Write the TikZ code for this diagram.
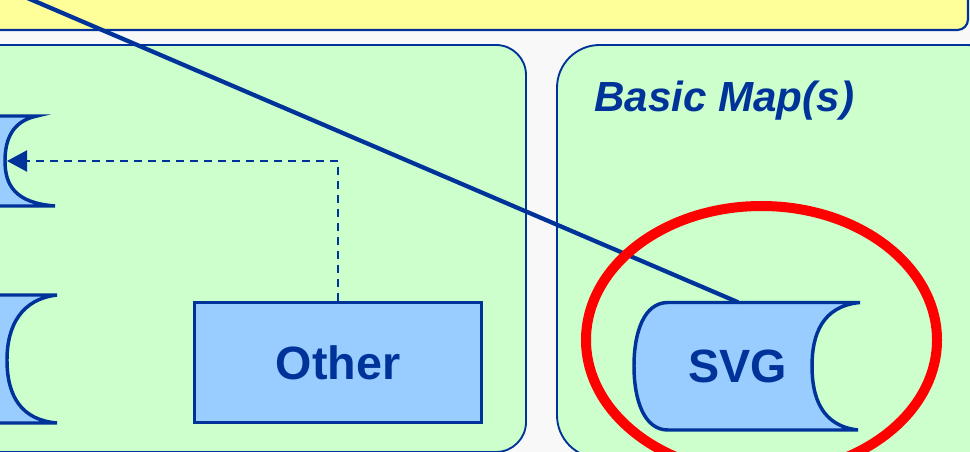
\documentclass[tikz,border=0pt]{standalone}
\usepackage{fontspec}
\setmainfont{Liberation Sans}
\usetikzlibrary{arrows.meta}

\definecolor{navy}{HTML}{003399}
\definecolor{mint}{HTML}{CCFFCC}
\definecolor{lemon}{HTML}{FFFF99}
\definecolor{sky}{HTML}{99CCFF}
\definecolor{paper}{HTML}{F8F8F8}

\begin{document}
\begin{tikzpicture}[
	x=0.75pt, y=-0.75pt,
	panel/.style={draw=navy, fill=mint, line width=1.4pt},
	store/.style={draw=navy, fill=sky, line width=2.6pt},
	boxtext/.style={text=navy, inner sep=0pt, font=\fontsize{35}{42}\selectfont\bfseries},
]
	\useasboundingbox (0,0) rectangle (970,452);
	\clip (0,0) rectangle (970,452);
	\fill [paper] (0,0) rectangle (970,452);

	\draw [draw=navy, fill=lemon, line width=1.6pt, rounded corners=8pt] (-40,-60) rectangle (968,30);
	\draw [panel, rounded corners=22.5pt] (-40,45) rectangle (526,452);
	\draw [panel, rounded corners=32pt] (557,45) rectangle (1010,458);

	\node [text=navy, inner sep=0pt, anchor=base west, font=\fontsize{31.6}{38}\selectfont\bfseries\itshape] (title) at (594,112) {Basic Map(s)};

	\draw [store] (-20,116) -- (37,116) .. controls (12,121) and (5,140) .. (5,161) .. controls (5,185) and (15,203) .. (55,206) -- (-20,206) -- cycle;
	\draw [store] (-20,295) -- (57,295) .. controls (22,299) and (7,325) .. (7,360) .. controls (7,397) and (22,420) .. (57,423) -- (-20,423) -- cycle;
	\draw [store] (668,302.5) -- (860,302.5) .. controls (822,306) and (812,335) .. (812,366) .. controls (812,398) and (822,426) .. (858,430) -- (668,430) .. controls (644,430) and (634,400) .. (634,366) .. controls (634,332) and (644,302.5) .. (668,302.5) -- cycle;

	\node [store, boxtext, minimum width=215pt, minimum height=90pt] (other) at (338,362.5) {Other};
	\node [boxtext, minimum height=95.25pt] (svg) at (738,366) {SVG};

	\coordinate (dbin) at (7,161);
	\coordinate (src) at (-38,-30);

	\draw [navy, line width=1.6pt, dash pattern=on 6pt off 4.5pt, -{Triangle[length=15pt, width=15.75pt]}] (other.north) |- (dbin);
	\draw [navy, line width=3.2pt] (src) -- (svg.north);

	\draw [red, line width=7.5pt] (761.5,340) ellipse [x radius=175.5, y radius=134];
\end{tikzpicture}
\end{document}
